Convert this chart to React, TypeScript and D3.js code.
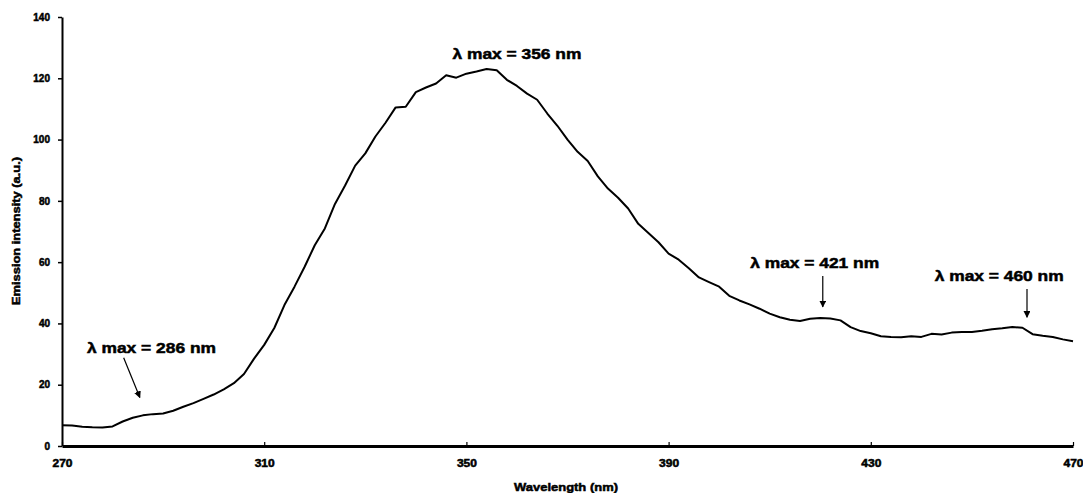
import React, { useRef, useEffect } from 'react';
import * as d3 from 'd3';

// emission spectrum, every 2 nm
const wavelengths = d3.range(270, 471, 2);
const intensity = [
  6.8, 6.7, 6.3, 6.1, 6.0, 6.4, 8.0, 9.2, 10.0, 10.4,
  10.6, 11.5, 12.8, 14.0, 15.4, 16.8, 18.5, 20.5, 23.5, 28.5,
  33.0, 38.5, 46.0, 52.0, 58.5, 65.5, 71.0, 79.0, 85.0, 91.5,
  95.5, 101.0, 105.5, 110.5, 110.7, 115.5, 117.0, 118.3, 121.0, 120.2,
  121.5, 122.2, 123.0, 122.6, 119.5, 117.5, 115.0, 113.0, 108.5, 104.5,
  100.0, 96.0, 93.0, 88.0, 84.0, 81.0, 77.5, 72.5, 69.5, 66.5,
  62.8, 60.8, 58.0, 55.0, 53.5, 52.0, 49.0, 47.5, 46.2, 44.8,
  43.2, 42.0, 41.2, 40.8, 41.5, 41.8, 41.6, 41.0, 38.8, 37.5,
  36.8, 35.8, 35.6, 35.5, 35.8, 35.6, 36.6, 36.4, 37.0, 37.2,
  37.2, 37.6, 38.1, 38.4, 38.8, 38.6, 36.5, 36.0, 35.6, 34.8,
  34.2,
];

const xTicks = [270, 310, 350, 390, 430, 470];
const yTicks = [0, 20, 40, 60, 80, 100, 120, 140];

// peak labels: where the text sits (nm, a.u.), arrow start/end (nm, a.u.)
const peaks = [
  { label: 'λ max = 286 nm', tx: 287.7, ty: 30.5, a0: [282.2, 28.8], a1: [285.4, 15.8] },
  { label: 'λ max = 356 nm', tx: 360.0, ty: 126.2, a0: null, a1: null },
  { label: 'λ max = 421 nm', tx: 418.9, ty: 58.2, a0: [420.5, 55.5], a1: [420.5, 45.4] },
  { label: 'λ max = 460 nm', tx: 455.4, ty: 54.0, a0: [460.9, 51.2], a1: [460.9, 42.0] },
];

const W = 1083;
const H = 493;
const FONT = '"Liberation Sans", Arial, sans-serif';

export default function App() {
  const svgRef = useRef(null);

  useEffect(() => {
    const svg = d3.select(svgRef.current);
    svg.selectAll('*').remove();

    const x = d3.scaleLinear().domain([270, 470]).range([62, 1073]);
    const y = d3.scaleLinear().domain([0, 140]).range([446, 17]);

    svg.append('defs').append('marker')
      .attr('id', 'arrowhead')
      .attr('viewBox', '0 0 10 10')
      .attr('refX', 9).attr('refY', 5)
      .attr('markerWidth', 7).attr('markerHeight', 7)
      .attr('markerUnits', 'userSpaceOnUse')
      .attr('orient', 'auto')
      .append('path')
      .attr('d', 'M0,0 L10,5 L0,10 z')
      .attr('fill', '#000');

    // heavy, slightly smeared labels like the scanned original
    const heavy = sel => sel
      .style('font-family', FONT).style('font-weight', 'bold')
      .attr('fill', '#000').attr('stroke', '#000').attr('stroke-width', 0.5);

    // y axis
    const yAxis = svg.append('g').attr('transform', 'translate(62,0)')
      .call(d3.axisLeft(y).tickValues(yTicks).tickSize(4).tickPadding(8).tickSizeOuter(0));
    yAxis.select('.domain').attr('stroke-width', 2);
    yAxis.selectAll('line').attr('stroke-width', 1.5);
    yAxis.selectAll('text').call(heavy).style('font-size', '10px');

    // x axis, ticks point inward
    const xAxis = svg.append('g').attr('transform', 'translate(0,446)')
      .call(d3.axisBottom(x).tickValues(xTicks).tickSize(-4).tickPadding(14).tickSizeOuter(0));
    xAxis.select('.domain').attr('stroke-width', 3);
    xAxis.selectAll('line').attr('stroke-width', 1.2);
    xAxis.selectAll('text').call(heavy).style('font-size', '10px')
      .attr('textLength', 20).attr('lengthAdjust', 'spacingAndGlyphs');

    // axis titles
    svg.append('text')
      .attr('transform', 'translate(20,231) rotate(-90)')
      .attr('text-anchor', 'middle')
      .call(heavy).style('font-size', '11px')
      .attr('textLength', 148).attr('lengthAdjust', 'spacingAndGlyphs')
      .text('Emission intensity (a.u.)');

    svg.append('text')
      .attr('x', 566).attr('y', 491)
      .attr('text-anchor', 'middle')
      .call(heavy).style('font-size', '11px')
      .attr('textLength', 104).attr('lengthAdjust', 'spacingAndGlyphs')
      .text('Wavelength (nm)');

    // spectrum
    const line = d3.line<number>()
      .x((_, i) => x(wavelengths[i]))
      .y(d => y(d));

    svg.append('path')
      .datum(intensity)
      .attr('d', line)
      .attr('fill', 'none')
      .attr('stroke', '#000')
      .attr('stroke-width', 2)
      .attr('stroke-linejoin', 'round');

    // peak annotations
    svg.append('g').selectAll('text')
      .data(peaks)
      .join('text')
      .attr('x', d => x(d.tx))
      .attr('y', d => y(d.ty))
      .attr('text-anchor', 'middle')
      .call(heavy).style('font-size', '15px')
      .attr('textLength', 129).attr('lengthAdjust', 'spacingAndGlyphs')
      .text(d => d.label);

    svg.append('g').selectAll('line')
      .data(peaks.filter(p => p.a0))
      .join('line')
      .attr('x1', d => x(d.a0[0])).attr('y1', d => y(d.a0[1]))
      .attr('x2', d => x(d.a1[0])).attr('y2', d => y(d.a1[1]))
      .attr('stroke', '#000')
      .attr('stroke-width', 1.2)
      .attr('marker-end', 'url(#arrowhead)');
  }, []);

  return (
    <svg
      ref={svgRef}
      width={W}
      height={H}
      style={{ position: 'absolute', left: 0, top: 0, background: '#fff', display: 'block' }}
    />
  );
}
